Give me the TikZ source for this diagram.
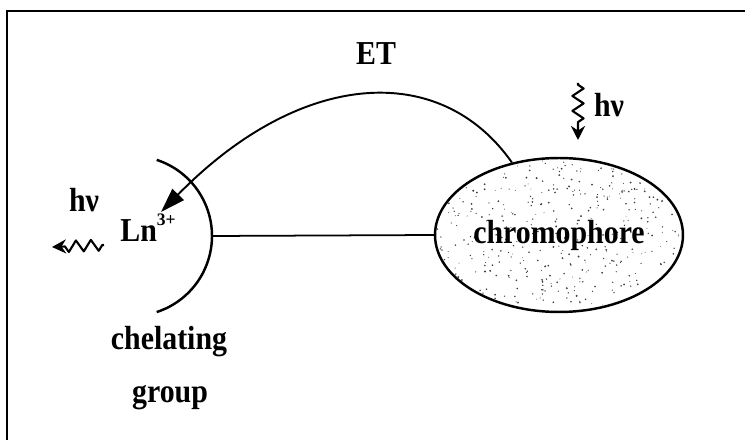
\documentclass[tikz,border=0pt]{standalone}
\usepackage{fontspec}
\setmainfont{Liberation Serif}
\usetikzlibrary{arrows.meta,shapes.geometric,decorations.pathmorphing}
\newcommand\talltext[1]{\scalebox{1}[1.12]{#1}}
\tikzset{
  lbl/.style={font=\fontsize{17}{20}\selectfont\bfseries, inner sep=0pt},
  wavy/.style={line width=1.2pt, line join=round, decorate, decoration={zigzag, amplitude=3.2pt, segment length=8.5pt, pre length=1pt, post length=6pt}, -{Stealth[length=8pt,width=8pt]}},
  chromo/.style={ellipse, draw, line width=1.4pt, minimum width=4.96cm, minimum height=3.08cm, inner sep=0pt, font=\fontsize{17}{20}\selectfont\bfseries},
}
\begin{document}
\begin{tikzpicture}[x=0.02cm,y=0.02cm]
\useasboundingbox (0,0) rectangle (745,440);
% frame (cut by the picture edge on right and bottom)
\draw[line width=1.2pt] (7,0) -- (7,429) -- (745,429);
% speckled fill of the chromophore
\begin{scope}
\clip (559,205) ellipse [x radius=124, y radius=77];
\pgfmathsetseed{7}
\foreach \i in {1,...,380}{
  \pgfmathsetmacro\ang{rnd*360}
  \pgfmathsetmacro\rr{sqrt(rnd)}
  \pgfmathsetmacro\sz{0.25+0.35*rnd}
  \fill[black!75] ({559+122*\rr*cos(\ang)},{205+75*\rr*sin(\ang)}) circle (\sz pt);
}
\end{scope}
\node[chromo] (chrom) at (559,205) {\talltext{chromophore}};
% chelating group arc
\draw[line width=1.4pt] (156.7,280.1) arc[start angle=72,end angle=-72,radius=80];
\coordinate (arcR) at (212,204);
\draw[line width=1pt] (arcR) -- (chrom.west);
% Ln
\node[lbl, anchor=base west] (ln) at (120,198) {\talltext{Ln}\raisebox{9.5pt}{\fontsize{10}{10}\selectfont 3+}};
\coordinate (lntip) at (161,228);
% energy transfer
\draw[line width=1.1pt, -{Triangle[length=14pt,width=9pt]}] (chrom.123) .. controls (440,380) and (300,370) .. (lntip);
\node[lbl, anchor=base] (et) at (376,375) {\talltext{ET}};
% excitation
\node[lbl, anchor=base] (hvin) at (609,323) {\talltext{hν}};
\coordinate (exA) at (578,357);
\coordinate (exB) at (578,300);
\draw[wavy] (exA) -- (exB);
% emission
\node[lbl, anchor=base] (hvout) at (84,228) {\talltext{hν}};
\coordinate (emA) at (104,195);
\coordinate (emB) at (52,193);
\draw[wavy] (emA) -- (emB);
% labels
\node[lbl, anchor=base] (chel) at (169,90) {\talltext{chelating}};
\node[lbl, anchor=base] (grp) at (170,37) {\talltext{group}};
\end{tikzpicture}
\end{document}
